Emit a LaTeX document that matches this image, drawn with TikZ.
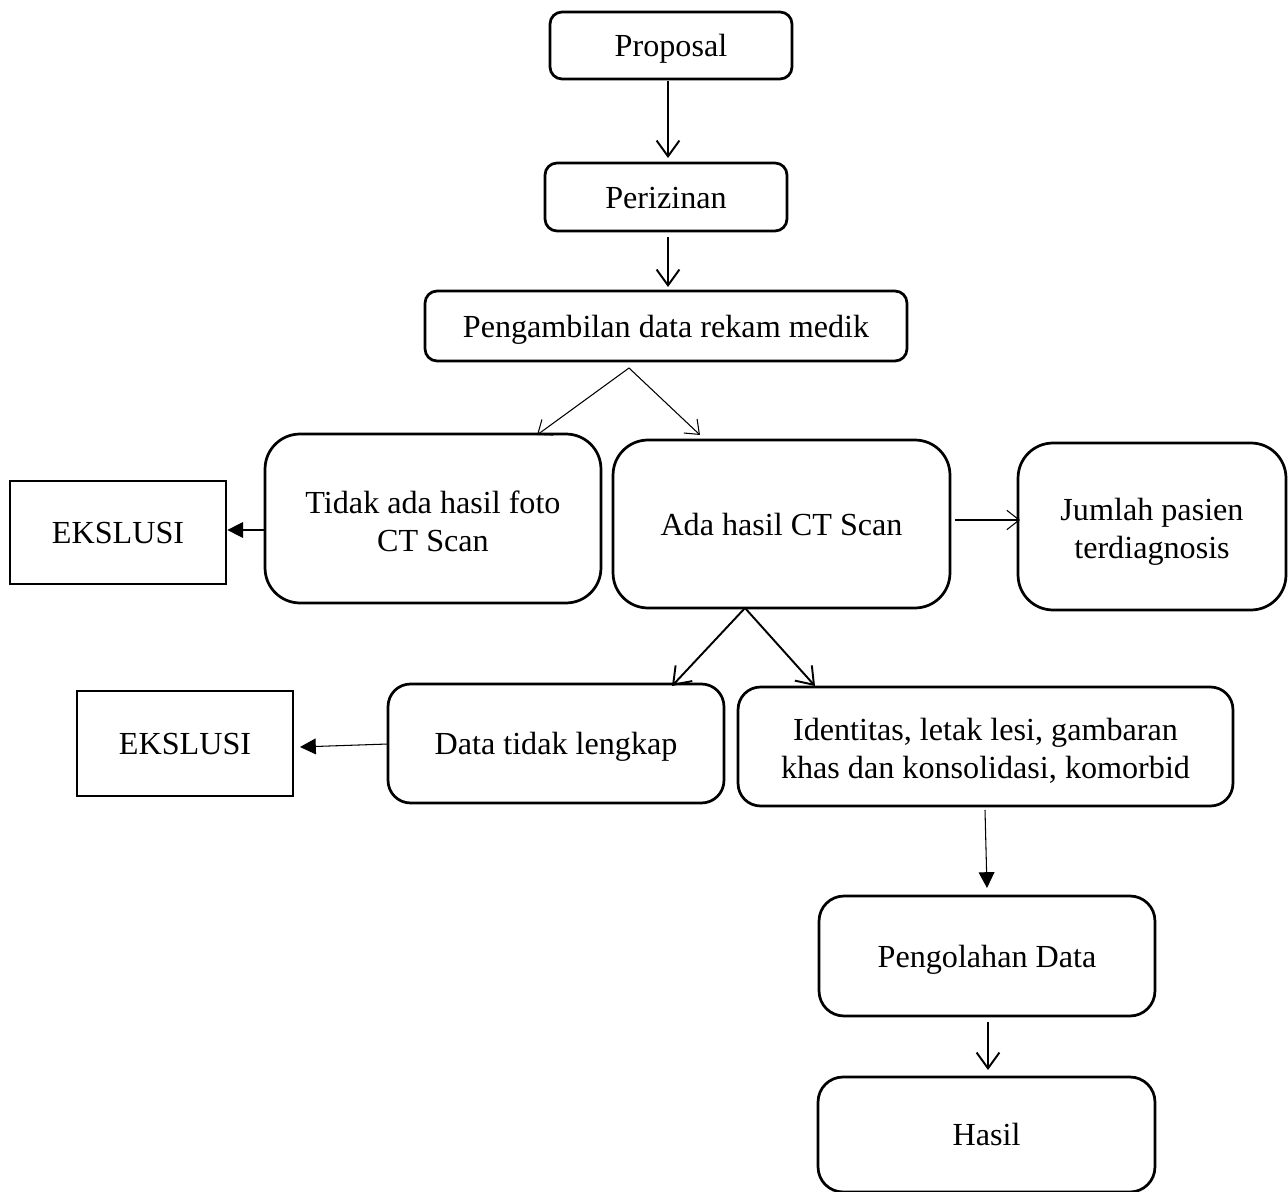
\documentclass[tikz,border=0pt]{standalone}
\usepackage{fontspec}
\setmainfont{Liberation Serif}
\usetikzlibrary{arrows.meta}
\begin{document}
\begin{tikzpicture}[x=0.02cm,y=-0.02cm,
  box/.style={draw, line width=1.55pt, align=center, inner sep=0pt, font=\fontsize{18.3}{21.5}\selectfont},
  one/.style={text height=13pt, text depth=0pt},
  sbox/.style={box, one, rounded corners=0.24cm},
  bbox/.style={box, rounded corners=0.7cm},
  sqbox/.style={box, one},
  openarr/.style={-{Straight Barb[length=9pt,width=13pt]}, line width=1.1pt},
  thinarr/.style={-{Straight Barb[length=7pt,width=11pt]}, line width=0.6pt},
  fillarr/.style={-{Triangle[length=9pt,width=9pt]}, line width=0.6pt}
]
\useasboundingbox (0,0) rectangle (1288,1192);
\node[sbox, minimum width=4.84cm, minimum height=1.34cm] (prop) at (671,45.5) {Proposal};
\node[sbox, minimum width=4.84cm, minimum height=1.36cm] (izin) at (666,197) {Perizinan};
\node[sbox, minimum width=9.64cm, minimum height=1.40cm] (ambil) at (666,326) {Pengambilan data rekam medik};
\node[bbox, minimum width=6.72cm, minimum height=3.38cm] (tidak) at (433,518.5) {\rule{0pt}{16pt}Tidak ada hasil foto\\CT Scan};
\node[bbox, one, minimum width=6.74cm, minimum height=3.36cm] (ada) at (781.5,524) {Ada hasil CT Scan};
\node[bbox, minimum width=5.36cm, minimum height=3.34cm] (jumlah) at (1152,526.5) {\rule{0pt}{19pt}Jumlah pasien\\terdiagnosis};
\node[sqbox, minimum width=4.32cm, minimum height=2.06cm] (eks1) at (118,532.5) {EKSLUSI};
\node[bbox, one, rounded corners=0.45cm, minimum width=6.72cm, minimum height=2.38cm] (datatl) at (556,743.5) {Data tidak lengkap};
\node[bbox, rounded corners=0.45cm, minimum width=9.90cm, minimum height=2.38cm] (ident) at (985.5,746.5) {\rule{0pt}{18pt}Identitas, letak lesi, gambaran\\khas dan konsolidasi, komorbid};
\node[sqbox, minimum width=4.32cm, minimum height=2.10cm] (eks2) at (185,743.5) {EKSLUSI};
\node[bbox, one, rounded corners=0.5cm, minimum width=6.72cm, minimum height=2.40cm] (olah) at (987,956) {Pengolahan Data};
\node[bbox, one, rounded corners=0.5cm, minimum width=6.74cm, minimum height=2.30cm] (hasil) at (986.5,1134.5) {Hasil};

\coordinate (s1) at (629,368);
\coordinate (s2) at (745,608);
\coordinate (t1) at (537,435);
\coordinate (t2) at (700,435);
\coordinate (t3) at (672,686);
\coordinate (t4) at (815,686);

\draw[openarr] (668,81) -- (668,158);
\draw[openarr] (668,237) -- (668,287);
\draw[thinarr] (s1) -- (t1);
\draw[thinarr] (s1) -- (t2);
\draw[fillarr] (265,530) -- (eks1.east |- 0,530);
\draw[thinarr] (955,520) -- (1020,520);
\draw[openarr] (s2) -- (t3);
\draw[openarr] (s2) -- (t4);
\draw[fillarr] (388,744) -- (300,747);
\draw[fillarr] (985,810) -- (987,888);
\draw[openarr] (988,1022) -- (988,1070);
\end{tikzpicture}
\end{document}
